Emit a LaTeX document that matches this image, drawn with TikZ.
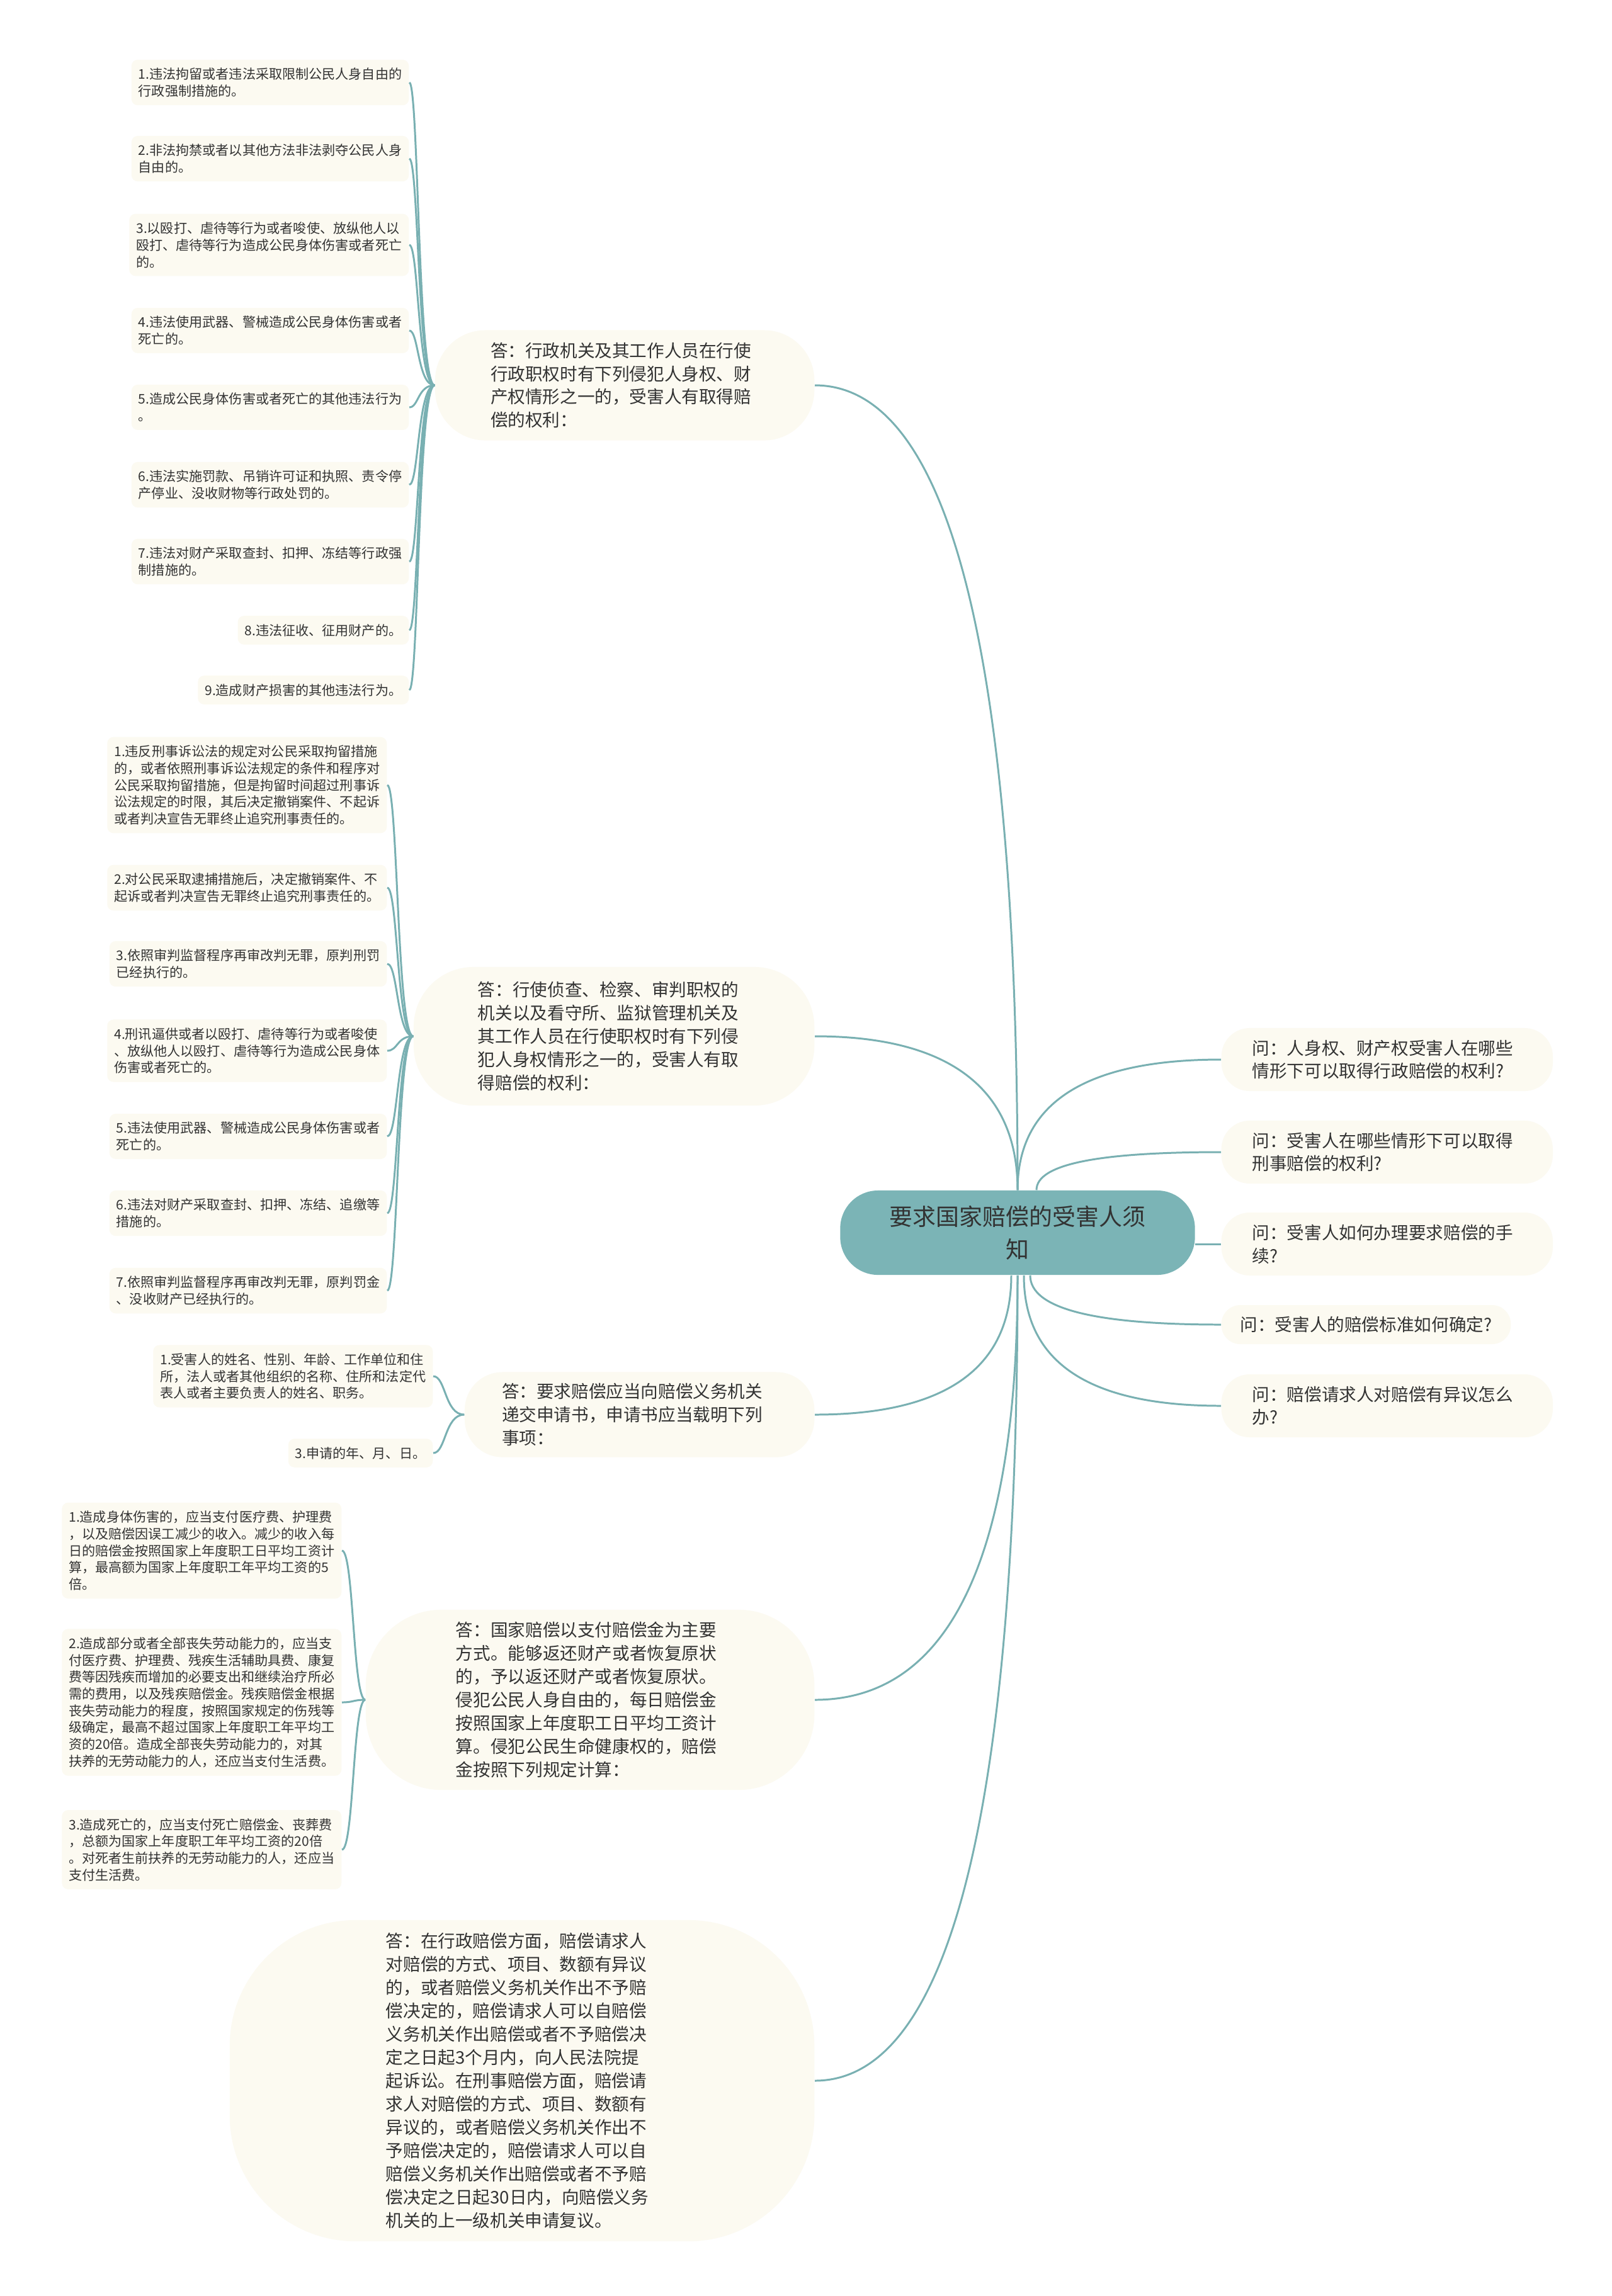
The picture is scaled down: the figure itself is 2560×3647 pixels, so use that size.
\documentclass[tikz,border=0pt]{standalone}
\usepackage{fontspec}
\setmainfont{Noto Sans CJK SC}
\definecolor{linkcol}{HTML}{79B0B2}
\definecolor{rootcol}{HTML}{7BB4B6}
\definecolor{boxcol}{HTML}{FCFAF1}
\definecolor{txtcol}{HTML}{333333}
\begin{document}
\begin{tikzpicture}[
x=0.01cm, y=-0.01cm,
every node/.style={text=txtcol},
link/.style={draw=linkcol, line width=0.85pt},
root/.style={fill=rootcol, rounded corners=6mm, minimum width=56.3mm,
  minimum height=13.4mm, align=center, font=\fontsize{10.5}{14.8}\selectfont},
ans/.style={fill=boxcol, anchor=east, align=left, inner ysep=1mm,
  font=\fontsize{7.85}{10.5}\selectfont},
ques/.style={fill=boxcol, anchor=west, align=left, inner ysep=1mm,
  font=\fontsize{7.85}{10.5}\selectfont},
leaf/.style={fill=boxcol, anchor=east, align=left, inner xsep=1.1mm,
  inner ysep=1.3mm, rounded corners=1mm, font=\fontsize{6}{7.6}\selectfont}
]
\fill[white] (0,0) rectangle (2560,3647);
\useasboundingbox (0,0) rectangle (2560,3647);

%---------------- Root ----------------
\node[root] (root) at (1616,1958) {要求国家赔偿的受害人须\\知};

%---------------- Questions ----------------
\node[ques, inner xsep=4.9mm, text width=42.8mm, minimum height=10mm, rounded corners=4.5mm]
  (q1) at (1939,1683) {问：人身权、财产权受害人在哪些\\情形下可以取得行政赔偿的权利?};
\node[ques, inner xsep=4.9mm, text width=42.8mm, minimum height=10mm, rounded corners=4.5mm]
  (q2) at (1939,1830) {问：受害人在哪些情形下可以取得\\刑事赔偿的权利?};
\node[ques, inner xsep=4.9mm, text width=42.8mm, minimum height=10mm, rounded corners=4.5mm]
  (q3) at (1939,1976) {问：受害人如何办理要求赔偿的手\\续?};
\node[ques, inner xsep=3mm, minimum height=6.2mm, rounded corners=3mm]
  (q4) at (1939,2104) {问：受害人的赔偿标准如何确定?};
\node[ques, inner xsep=4.9mm, text width=42.8mm, minimum height=10mm, rounded corners=4.5mm]
  (q5) at (1939,2233) {问：赔偿请求人对赔偿有异议怎么\\办?};

%---------------- Answers ----------------
\node[ans, inner xsep=8.8mm, text width=42.6mm, minimum height=17.5mm, rounded corners=8mm]
  (a1) at (1294,612) {答：行政机关及其工作人员在行使\\行政职权时有下列侵犯人身权、财\\产权情形之一的，受害人有取得赔\\偿的权利：};
\node[ans, inner xsep=10.2mm, text width=43.2mm, minimum height=22mm, rounded corners=9.5mm]
  (a2) at (1294,1646) {答：行使侦查、检察、审判职权的\\机关以及看守所、监狱管理机关及\\其工作人员在行使职权时有下列侵\\犯人身权情形之一的，受害人有取\\得赔偿的权利：};
\node[ans, inner xsep=5.9mm, text width=43.7mm, minimum height=13.5mm, rounded corners=6mm]
  (a3) at (1294,2247) {答：要求赔偿应当向赔偿义务机关\\递交申请书，申请书应当载明下列\\事项：};
\node[ans, inner xsep=14.3mm, text width=42.6mm, minimum height=28.6mm, rounded corners=12mm]
  (a4) at (1294,2700) {答：国家赔偿以支付赔偿金为主要\\方式。能够返还财产或者恢复原状\\的，予以返还财产或者恢复原状。\\侵犯公民人身自由的，每日赔偿金\\按照国家上年度职工日平均工资计\\算。侵犯公民生命健康权的，赔偿\\金按照下列规定计算：};
\node[ans, inner xsep=24.8mm, text width=43.2mm, minimum height=51mm, rounded corners=20mm]
  (a5) at (1294,3305) {答：在行政赔偿方面，赔偿请求人\\对赔偿的方式、项目、数额有异议\\的，或者赔偿义务机关作出不予赔\\偿决定的，赔偿请求人可以自赔偿\\义务机关作出赔偿或者不予赔偿决\\定之日起3个月内，向人民法院提\\起诉讼。在刑事赔偿方面，赔偿请\\求人对赔偿的方式、项目、数额有\\异议的，或者赔偿义务机关作出不\\予赔偿决定的，赔偿请求人可以自\\赔偿义务机关作出赔偿或者不予赔\\偿决定之日起30日内，向赔偿义务\\机关的上一级机关申请复议。};

%---------------- Leaves of a1 ----------------
\node[leaf] (l11) at (650,131) {1.违法拘留或者违法采取限制公民人身自由的\\行政强制措施的。};
\node[leaf] (l12) at (650,252) {2.非法拘禁或者以其他方法非法剥夺公民人身\\自由的。};
\node[leaf] (l13) at (650,389) {3.以殴打、虐待等行为或者唆使、放纵他人以\\殴打、虐待等行为造成公民身体伤害或者死亡\\的。};
\node[leaf] (l14) at (650,525) {4.违法使用武器、警械造成公民身体伤害或者\\死亡的。};
\node[leaf] (l15) at (650,647) {5.造成公民身体伤害或者死亡的其他违法行为\\。};
\node[leaf] (l16) at (650,770) {6.违法实施罚款、吊销许可证和执照、责令停\\产停业、没收财物等行政处罚的。};
\node[leaf] (l17) at (650,892) {7.违法对财产采取查封、扣押、冻结等行政强\\制措施的。};
\node[leaf] (l18) at (650,1001) {8.违法征收、征用财产的。};
\node[leaf] (l19) at (650,1096) {9.造成财产损害的其他违法行为。};

%---------------- Leaves of a2 ----------------
\node[leaf] (l21) at (615,1247) {1.违反刑事诉讼法的规定对公民采取拘留措施\\的，或者依照刑事诉讼法规定的条件和程序对\\公民采取拘留措施，但是拘留时间超过刑事诉\\讼法规定的时限，其后决定撤销案件、不起诉\\或者判决宣告无罪终止追究刑事责任的。};
\node[leaf] (l22) at (615,1410) {2.对公民采取逮捕措施后，决定撤销案件、不\\起诉或者判决宣告无罪终止追究刑事责任的。};
\node[leaf] (l23) at (615,1531) {3.依照审判监督程序再审改判无罪，原判刑罚\\已经执行的。};
\node[leaf] (l24) at (615,1669) {4.刑讯逼供或者以殴打、虐待等行为或者唆使\\、放纵他人以殴打、虐待等行为造成公民身体\\伤害或者死亡的。};
\node[leaf] (l25) at (615,1805) {5.违法使用武器、警械造成公民身体伤害或者\\死亡的。};
\node[leaf] (l26) at (615,1927) {6.违法对财产采取查封、扣押、冻结、追缴等\\措施的。};
\node[leaf] (l27) at (615,2050) {7.依照审判监督程序再审改判无罪，原判罚金\\、没收财产已经执行的。};

%---------------- Leaves of a3 ----------------
\node[leaf] (l31) at (688,2186) {1.受害人的姓名、性别、年龄、工作单位和住\\所，法人或者其他组织的名称、住所和法定代\\表人或者主要负责人的姓名、职务。};
\node[leaf] (l33) at (688,2308) {3.申请的年、月、日。};

%---------------- Leaves of a4 ----------------
\node[leaf] (l41) at (543,2463) {1.造成身体伤害的，应当支付医疗费、护理费\\，以及赔偿因误工减少的收入。减少的收入每\\日的赔偿金按照国家上年度职工日平均工资计\\算，最高额为国家上年度职工年平均工资的5\\倍。};
\node[leaf] (l42) at (543,2704) {2.造成部分或者全部丧失劳动能力的，应当支\\付医疗费、护理费、残疾生活辅助具费、康复\\费等因残疾而增加的必要支出和继续治疗所必\\需的费用，以及残疾赔偿金。残疾赔偿金根据\\丧失劳动能力的程度，按照国家规定的伤残等\\级确定，最高不超过国家上年度职工年平均工\\资的20倍。造成全部丧失劳动能力的，对其\\扶养的无劳动能力的人，还应当支付生活费。};
\node[leaf] (l43) at (543,2938) {3.造成死亡的，应当支付死亡赔偿金、丧葬费\\，总额为国家上年度职工年平均工资的20倍\\。对死者生前扶养的无劳动能力的人，还应当\\支付生活费。};

%---------------- Connectors ----------------
\draw[link] (root.north) .. controls +(0,-853) and +(214,0) .. (a1.east);
\draw[link] (root.north) .. controls +(0,-163) and +(211,0) .. (a2.east);
\draw[link] ([xshift=-1mm]root.south) .. controls +(0,148) and +(207,0) .. (a3.east);
\draw[link] (root.south) .. controls +(0,450) and +(213,0) .. (a4.east);
\draw[link] (root.south) .. controls +(0,853) and +(214,0) .. (a5.east);

\draw[link] (root.north) .. controls +(0,-139) and +(-214,0) .. (q1.west);
\draw[link] ([xshift=3mm]root.north) .. controls +(0,-41) and +(-196,0) .. (q2.west);
\draw[link] (root.east |- q3.west) -- (q3.west);
\draw[link] ([xshift=2mm]root.south) .. controls +(0,53) and +(-201,0) .. (q4.west);
\draw[link] ([xshift=1mm]root.south) .. controls +(0,139) and +(-209,0) .. (q5.west);

\foreach \n in {l11,l12,l13,l14,l15,l16,l17,l18,l19}
  \draw[link] (a1.west) .. controls +(-27,0) and +(15,0) .. (\n.east);
\foreach \n in {l21,l22,l23,l24,l25,l26,l27}
  \draw[link] (a2.west) .. controls +(-26,0) and +(17,0) .. (\n.east);
\foreach \n in {l31,l33}
  \draw[link] (a3.west) .. controls +(-31,0) and +(20,0) .. (\n.east);
\foreach \n in {l41,l42,l43}
  \draw[link] (a4.west) .. controls +(-20,0) and +(19,0) .. (\n.east);

\end{tikzpicture}
\end{document}
